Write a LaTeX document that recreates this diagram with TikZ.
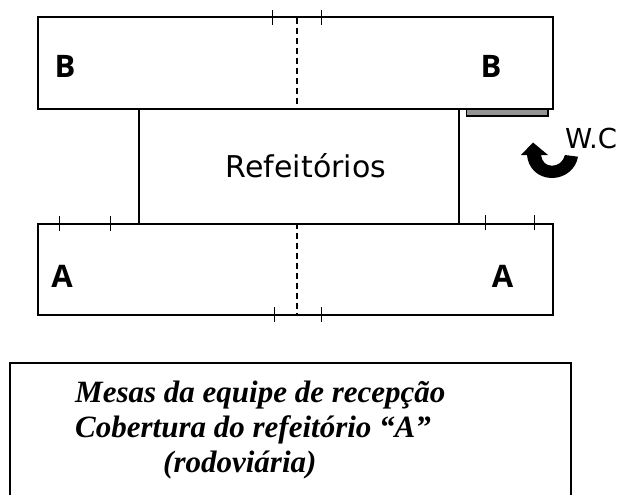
\documentclass[tikz,border=0pt]{standalone}
\usepackage{fontspec}
\setmainfont{Liberation Serif}
\newfontfamily\labelfont{DejaVu Sans}
\newfontfamily\boldlabelfont{Open Sans}
\tikzset{
  line/.style={draw=black,line width=2pt},
  thin line/.style={draw=black,line width=2pt},
  tickmark/.style={draw=black,line width=1.5pt},
  region/.style={inner sep=0pt,font=\boldlabelfont\bfseries\fontsize{31}{34}\selectfont},
  plainlabel/.style={inner sep=0pt,anchor=base,font=\labelfont\fontsize{30}{32}\selectfont},
  caption/.style={inner sep=0pt,anchor=base west,font=\fontsize{31}{34}\selectfont\bfseries\itshape}
}
\begin{document}
\begin{tikzpicture}[x=1pt,y=-1pt]
\useasboundingbox (0,0) rectangle (618,495);
\coordinate (bA) at (37.5,17.5); \coordinate (bB) at (552.5,108.5);
\coordinate (aA) at (37.5,223.5); \coordinate (aB) at (552.5,314.5);
\draw[line] (bA) rectangle (bB);
\draw[line] (aA) rectangle (aB);
\draw[thin line] (139,108.5) -- (139,223);
\draw[thin line] (458.5,108.5) -- (458.5,223);
\draw[tickmark,dash pattern=on 6pt off 4pt] (297,18) -- (297,108);
\draw[tickmark,dash pattern=on 6pt off 4pt] (297,223) -- (297,314);
\foreach \x in {272.5,321.5} \draw[tickmark] (\x,10) -- (\x,25);
\foreach \x in {274.5,321.5} \draw[tickmark] (\x,307) -- (\x,322);
\foreach \x in {59.5,110.5} \draw[tickmark] (\x,216) -- (\x,231);
\foreach \x in {485.5,534.5} \draw[tickmark] (\x,215) -- (\x,230);
\draw[tickmark,fill=black!42] (466.5,109) rectangle (548,116);
\node[region] (b1) at (65,66.5) {B};
\node[region] (b2) at (491,66.5) {B};
\node[region] (a1) at (62,276.5) {A};
\node[region] (a2) at (502.5,276.5) {A};
\node[plainlabel] (ref) at (306,177) {Refeitórios};
\node[plainlabel,font=\labelfont\fontsize{27.5}{30}\selectfont] (wc) at (591,148) {W.C};
\fill[black] (521,155) -- (533,142.5) -- (548,155) -- (541,155)
  .. controls (542,162) and (546,165.7) .. (552,165.7)
  .. controls (558,165.7) and (563,162) .. (565,155)
  -- (578,156.7)
  .. controls (576,169) and (565,178) .. (552,178)
  .. controls (538,178) and (528,168) .. (527,155) -- cycle;
\draw[line] (9.5,495) -- (9.5,363) -- (570.5,363) -- (570.5,495);
\node[caption] (m1) at (75,402) {Mesas da equipe de recepção};
\node[caption] (m2) at (75,437) {Cobertura do refeitório “A”};
\node[caption] (m3) at (163,472) {(rodoviária)};
\end{tikzpicture}
\end{document}
